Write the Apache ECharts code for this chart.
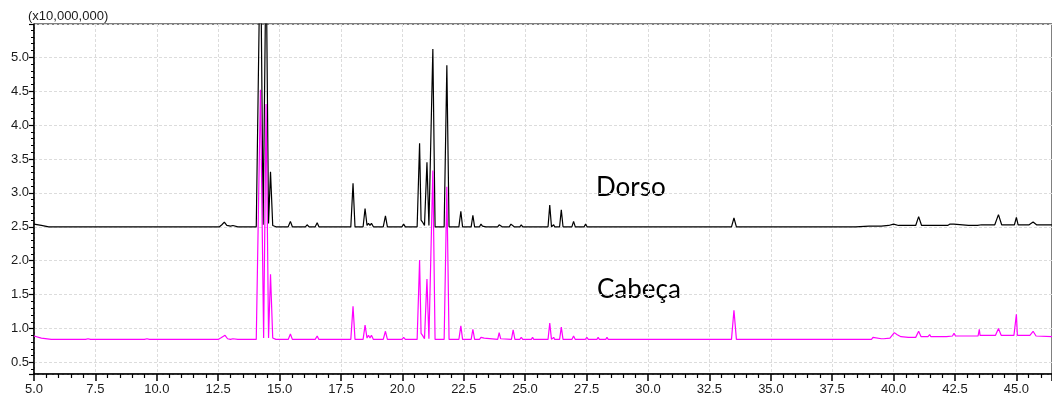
<!DOCTYPE html>
<html>
<head>
<meta charset="utf-8">
<script src="https://cdn.jsdelivr.net/npm/echarts@6/dist/echarts.min.js"></script>
<style>
  html, body { margin: 0; padding: 0; background: #fff; }
  #chart { width: 1052px; height: 399px; }
</style>
</head>
<body>
<div id="chart"></div>
<script>
// retention time (min) and intensity (x10,000,000)
const dorsoTime = [5.0, 5.3, 5.6, 7.1, 7.18, 7.26, 7.45, 7.52, 7.6,
  12.55, 12.65, 12.75, 12.85, 13.0, 13.1, 13.3,
  14.05, 14.22, 14.33, 14.45, 14.55, 14.63, 14.72, 14.85,
  15.35, 15.44, 15.52, 16.05, 16.12, 16.2, 16.45, 16.53, 16.6, 17.15, 17.22, 17.3,
  17.9, 17.99, 18.07, 18.4, 18.48, 18.56, 18.62, 18.68, 18.74, 18.82,
  19.22, 19.31, 19.39, 19.98, 20.05, 20.12,
  20.6, 20.7, 20.76, 20.82, 20.9, 21.0, 21.08, 21.15, 21.24, 21.33,
  21.7, 21.81, 21.9, 22.3, 22.38, 22.45, 22.8, 22.87, 22.94,
  23.14, 23.2, 23.26, 23.33, 23.4, 23.88, 23.94, 24.0, 24.06,
  24.35, 24.42, 24.48, 24.55, 24.78, 24.84, 24.9, 25.25, 25.3, 25.35,
  25.93, 26.0, 26.07, 26.12, 26.16, 26.2, 26.4, 26.47, 26.54, 26.9, 26.97, 27.04,
  27.4, 27.46, 27.52, 27.92, 27.97, 28.02, 28.58, 28.62, 28.66, 29.05, 29.1, 29.15,
  30.45, 30.5, 30.55, 31.95, 32.0, 32.05, 32.45, 32.5, 32.55,
  33.4, 33.5, 33.6, 34.75, 34.8, 34.85, 38.35, 38.4, 38.45,
  39.0, 39.5, 39.8, 40.0, 40.2, 40.5, 40.9, 41.02, 41.14, 41.4, 41.47, 41.54,
  42.2, 42.3, 42.38, 42.45, 42.52, 43.05, 43.12, 43.2, 43.42, 43.5, 43.58,
  44.12, 44.27, 44.4, 44.92, 45.0, 45.07, 45.52, 45.68, 45.82, 46.45];
const dorsoSignal = [2.54, 2.52, 2.50, 2.50, 2.52, 2.50, 2.50, 2.51, 2.50,
  2.50, 2.53, 2.57, 2.52, 2.51, 2.52, 2.50,
  2.50, 6.9, 2.53, 6.6, 2.55, 3.31, 2.52, 2.50,
  2.50, 2.58, 2.50, 2.50, 2.53, 2.50, 2.50, 2.56, 2.50, 2.50, 2.52, 2.50,
  2.50, 3.14, 2.50, 2.50, 2.77, 2.52, 2.55, 2.52, 2.55, 2.50,
  2.50, 2.66, 2.50, 2.50, 2.54, 2.50,
  2.50, 3.73, 2.60, 2.57, 2.52, 3.45, 2.52, 2.52, 5.12, 2.50,
  2.50, 4.88, 2.50, 2.50, 2.73, 2.50, 2.50, 2.67, 2.50,
  2.50, 2.54, 2.51, 2.52, 2.50, 2.50, 2.53, 2.53, 2.50,
  2.50, 2.54, 2.52, 2.50, 2.50, 2.53, 2.50, 2.50, 2.52, 2.50,
  2.50, 2.82, 2.50, 2.50, 2.53, 2.50, 2.50, 2.75, 2.50, 2.50, 2.58, 2.50,
  2.50, 2.54, 2.50, 2.50, 2.52, 2.50, 2.50, 2.52, 2.50, 2.50, 2.52, 2.50,
  2.50, 2.52, 2.50, 2.50, 2.52, 2.50, 2.50, 2.51, 2.50,
  2.50, 2.63, 2.50, 2.50, 2.51, 2.50, 2.50, 2.52, 2.50,
  2.51, 2.51, 2.52, 2.54, 2.52, 2.52, 2.52, 2.65, 2.52, 2.52, 2.53, 2.52,
  2.52, 2.54, 2.52, 2.54, 2.52, 2.52, 2.54, 2.52, 2.52, 2.54, 2.53,
  2.53, 2.68, 2.53, 2.53, 2.64, 2.53, 2.53, 2.57, 2.53, 2.53];

const cabecaTime = [5.0, 5.3, 5.7, 7.1, 7.2, 7.3, 7.45, 7.52, 7.6, 9.5, 9.6, 9.7, 10.9, 10.95, 11.0,
  12.5, 12.6, 12.68, 12.78, 12.88, 13.0, 13.1, 13.3,
  14.05, 14.22, 14.35, 14.45, 14.55, 14.63, 14.72, 14.85,
  15.35, 15.44, 15.52, 16.05, 16.12, 16.2, 16.45, 16.53, 16.6, 17.15, 17.22, 17.3,
  17.9, 17.99, 18.07, 18.4, 18.48, 18.56, 18.62, 18.68, 18.74, 18.82,
  19.22, 19.31, 19.39, 19.98, 20.05, 20.12,
  20.6, 20.7, 20.76, 20.82, 20.9, 21.0, 21.08, 21.15, 21.24, 21.33,
  21.7, 21.81, 21.9, 22.3, 22.38, 22.45, 22.8, 22.87, 22.94,
  23.14, 23.2, 23.26, 23.33, 23.4, 23.88, 23.94, 24.0, 24.06,
  24.44, 24.51, 24.58, 24.78, 24.84, 24.9, 25.25, 25.3, 25.35,
  25.93, 26.0, 26.07, 26.12, 26.16, 26.2, 26.4, 26.47, 26.54, 26.9, 26.97, 27.04,
  27.45, 27.51, 27.57, 27.92, 27.97, 28.02, 28.28, 28.33, 28.38,
  29.04, 29.09, 29.14, 30.46, 30.51, 30.56,
  33.4, 33.5, 33.6, 38.5, 38.55, 38.6,
  39.1, 39.16, 39.22, 39.5, 39.55, 39.6, 39.85, 40.03, 40.15, 40.3, 40.6, 40.9,
  41.02, 41.12, 41.4, 41.47, 41.52, 42.05, 42.1, 42.15, 42.4, 42.46, 42.52, 42.6, 42.68,
  43.05, 43.12, 43.2, 43.44, 43.49, 43.52, 44.15, 44.27, 44.38,
  44.9, 44.97, 45.0, 45.04, 45.55, 45.68, 45.8, 46.45];
const cabecaSignal = [0.89, 0.86, 0.84, 0.84, 0.85, 0.84, 0.84, 0.85, 0.84, 0.84, 0.85, 0.84, 0.84, 0.85, 0.84,
  0.84, 0.86, 0.86, 0.90, 0.85, 0.84, 0.85, 0.84,
  0.84, 4.52, 0.86, 4.31, 0.86, 1.80, 0.86, 0.84,
  0.84, 0.92, 0.84, 0.84, 0.86, 0.84, 0.84, 0.89, 0.84, 0.84, 0.86, 0.84,
  0.84, 1.33, 0.84, 0.84, 1.05, 0.86, 0.90, 0.86, 0.90, 0.84,
  0.84, 0.96, 0.84, 0.84, 0.87, 0.84,
  0.84, 2.01, 0.93, 0.90, 0.85, 1.73, 0.85, 0.85, 3.33, 0.84,
  0.84, 3.09, 0.84, 0.84, 1.04, 0.84, 0.84, 0.99, 0.84,
  0.84, 0.87, 0.85, 0.86, 0.84, 0.84, 0.94, 0.85, 0.84,
  0.84, 0.98, 0.84, 0.84, 0.87, 0.84, 0.84, 0.87, 0.84,
  0.84, 1.08, 0.84, 0.84, 0.87, 0.84, 0.84, 1.02, 0.84, 0.84, 0.89, 0.84,
  0.84, 0.87, 0.84, 0.84, 0.87, 0.84, 0.84, 0.87, 0.84,
  0.84, 0.86, 0.84, 0.84, 0.86, 0.84,
  0.84, 1.27, 0.84, 0.84, 0.85, 0.84,
  0.84, 0.87, 0.85, 0.85, 0.86, 0.85, 0.86, 0.94, 0.91, 0.88, 0.87, 0.87,
  0.96, 0.88, 0.88, 0.91, 0.88, 0.88, 0.90, 0.88, 0.89, 0.93, 0.89, 0.90, 0.89,
  0.89, 0.90, 0.89, 0.89, 0.99, 0.90, 0.90, 1.00, 0.90,
  0.90, 0.91, 1.21, 0.90, 0.90, 0.96, 0.89, 0.88];

const toPairs = (t, v) => t.map((x, i) => [x, v[i]]);

const labelFont = { fontFamily: 'Liberation Sans', fontSize: 13, color: '#1a1a1a' };
const gridLine = { show: true, lineStyle: { color: '#dcdcdc', type: [3, 2], width: 1 } };

const chart = echarts.init(document.getElementById('chart'), null, { renderer: 'canvas' });
chart.setOption({
  animation: false,
  grid: { left: 34, top: 24, right: 0, bottom: 25, show: true, borderColor: '#000', borderWidth: 1 },
  xAxis: {
    type: 'value', min: 5, max: 46.45, interval: 2.5,
    axisLine: { lineStyle: { color: '#000', width: 1.5 } },
    axisTick: { length: 7, lineStyle: { color: '#000', width: 1.5 } },
    minorTick: { show: true, splitNumber: 5, length: 4, lineStyle: { color: '#000', width: 1.2 } },
    axisLabel: Object.assign({ margin: 9, showMaxLabel: false, formatter: v => v.toFixed(1) }, labelFont),
    splitLine: gridLine
  },
  yAxis: {
    type: 'value', min: 0.33, max: 5.49, splitNumber: 10,
    axisLine: { show: true, lineStyle: { color: '#000', width: 1.5 } },
    axisTick: { show: true, length: 5, lineStyle: { color: '#000', width: 1.2 } },
    minorTick: { show: true, splitNumber: 5, length: 3, lineStyle: { color: '#000', width: 1 } },
    axisLabel: Object.assign({ margin: 5, showMinLabel: false, showMaxLabel: false,
      formatter: v => v.toFixed(1) }, labelFont),
    splitLine: gridLine
  },
  graphic: [
    { type: 'text', left: 28, top: 10, style: { text: '(x10,000,000)', font: '13px "Liberation Sans"', fill: '#1a1a1a' } },
    { type: 'text', left: 596, top: 175, style: { text: 'Dorso', font: '26px Lato', fill: '#000' } },
    { type: 'text', left: 597, top: 277, style: { text: 'Cabeça', font: '26px Lato', fill: '#000' } }
  ],
  series: [
    { name: 'Dorso', type: 'line', showSymbol: false, data: toPairs(dorsoTime, dorsoSignal),
      lineStyle: { color: '#000', width: 1.2 }, z: 2 },
    { name: 'Cabeça', type: 'line', showSymbol: false, data: toPairs(cabecaTime, cabecaSignal),
      lineStyle: { color: '#ff00ff', width: 1.2 }, z: 3 }
  ]
});
</script>
</body>
</html>
